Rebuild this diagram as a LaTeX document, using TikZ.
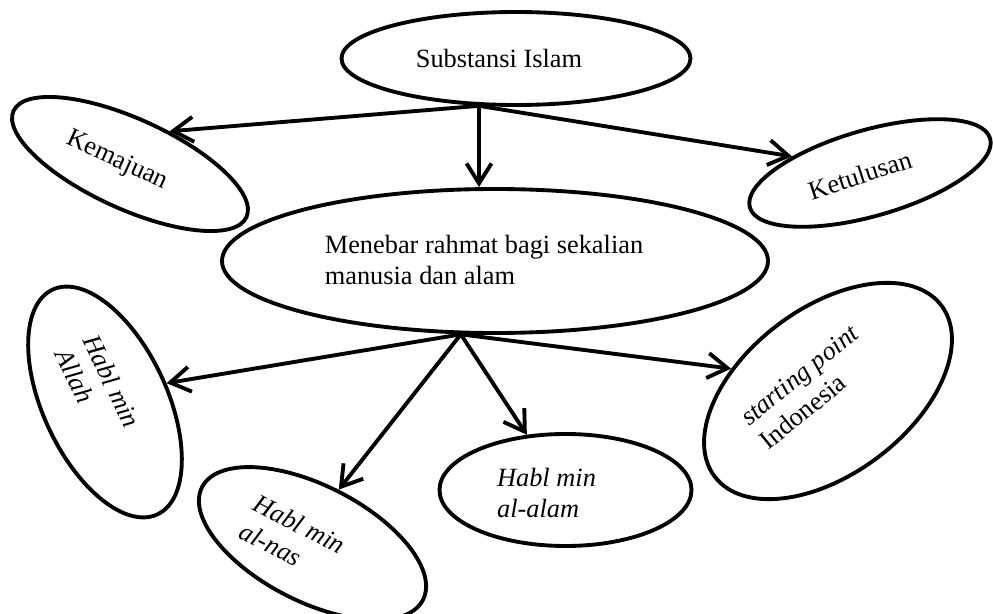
\documentclass[tikz,border=0pt]{standalone}
\usepackage{fontspec}
\setmainfont{Liberation Serif}
\usetikzlibrary{positioning, shapes.geometric}
\usetikzlibrary{arrows.meta}

\begin{document}
\begin{tikzpicture}[every node/.style={font=\fontsize{15}{17.5}\selectfont}, oval/.style={ellipse, draw, line width=2.2pt, inner sep=0pt},
    ital/.style={font=\fontsize{15}{17.5}\selectfont\itshape}, link/.style={->, line width=2.2pt}, >={Straight Barb[length=4mm, width=5mm]}]
    \tikzstyle{lines} = [align=left, inner sep=0pt]
    \useasboundingbox (0,0) rectangle (19.86,-12.28);

    % ovals
    \node[oval, minimum width=6.98cm, minimum height=1.86cm] (substansi) at (10.32,-1.17) {};
    \node[oval, minimum width=10.92cm, minimum height=2.88cm] (rahmat) at (9.9,-5.22) {};
    \node[oval, rotate=-24.5, minimum width=5.12cm, minimum height=1.8cm] (kemajuan) at (2.6,-3.28) {};
    \node[oval, rotate=16, minimum width=5cm, minimum height=1.72cm] (ketulusan) at (17.4,-3.46) {};
    \node[oval, rotate=-65, minimum width=4.96cm, minimum height=2.48cm] (allah) at (2.1,-8.04) {};
    \node[oval, rotate=-27, minimum width=4.96cm, minimum height=2.32cm] (nas) at (6.25,-10.87) {};
    \node[oval, minimum width=5.04cm, minimum height=2.24cm] (alam) at (11.31,-9.8) {};
    \node[oval, rotate=37, minimum width=5.68cm, minimum height=3.32cm] (indonesia) at (16.56,-7.82) {};

    % texts
    \node[lines] (substansitext) at ([shift={(-0.34,0)}]substansi.center) {Substansi Islam};
    \node[lines] (rahmattext) at ([shift={(-0.22,0.02)}]rahmat.center) {Menebar rahmat bagi sekalian\\manusia dan alam};
    \node[lines, rotate=-24.5] (kemajuantext) at ([shift={(-0.26,0.06)}]kemajuan.center) {Kemajuan};
    \node[lines, rotate=18] (ketulusantext) at ([shift={(-0.2,-0.04)}]ketulusan.center) {Ketulusan};
    \node[lines, ital, rotate=-64] (allahtext) at ([shift={(-0.14,0.28)}]allah.center) {Habl min\\Allah};
    \node[lines, ital, rotate=-27] (nastext) at ([shift={(-0.4,0.11)}]nas.center) {Habl min\\al-nas};
    \node[lines, ital] (alamtext) at ([shift={(-0.38,-0.06)}]alam.center) {Habl min\\al-alam};
    \node[lines, rotate=39] (indonesiatext) at ([shift={(-0.38,0.08)}]indonesia.center) {\textit{starting point}\\Indonesia};

    \coordinate (fork) at (substansi.232);
    \coordinate (hub) at (rahmat.245);

    \draw[link] (fork) -- (kemajuan.64);
    \draw[link] (fork) -- (fork |- rahmat.north);
    \draw[link] (fork) -- (ketulusan.152);

    \draw[link] (hub) -- (allah.82);
    \draw[link] (hub) -- (nas.91);
    \draw[link] (hub) -- (alam.125);
    \draw[link] (hub) -- (indonesia.130);

\end{tikzpicture}
\end{document}
